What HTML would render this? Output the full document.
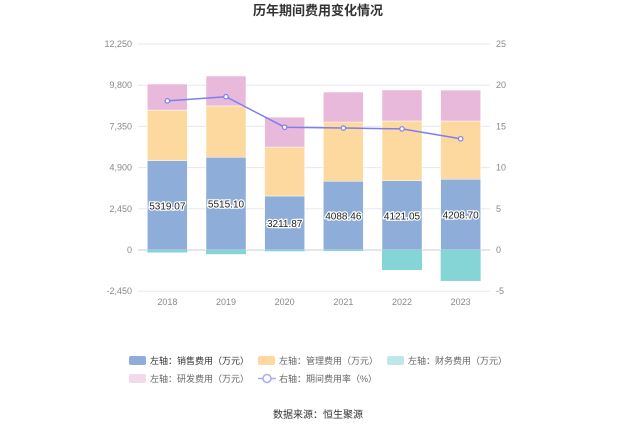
<!DOCTYPE html>
<html><head><meta charset="utf-8"><style>
body{margin:0;background:#fff;font-family:"Liberation Sans","Noto Sans CJK SC",sans-serif;}
svg text{font-family:"Liberation Sans","Noto Sans CJK SC",sans-serif;}
</style></head><body>
<svg id="c" width="637" height="431">
<text x="318" y="15" text-anchor="middle" font-size="13" font-weight="bold" fill="#333">历年期间费用变化情况</text>
<g id="grid"></g><g id="bars"></g><g id="line"></g>
<g id="legend" font-size="9" fill="#666">
<rect x="129" y="356" width="17" height="9" rx="2" fill="#8eadd9"/><text x="150" y="364" fill="#333">左轴：销售费用（万元）</text>
<rect x="258" y="356" width="17" height="9" rx="2" fill="#fdd9a0"/><text x="279" y="364">左轴：管理费用（万元）</text>
<rect x="387" y="356" width="17" height="9" rx="2" fill="#bfe7e8"/><text x="408" y="364">左轴：财务费用（万元）</text>
<rect x="129" y="374" width="17" height="9" rx="2" fill="#f2d9ec"/><text x="150" y="382">左轴：研发费用（万元）</text>
<line x1="258" y1="378.5" x2="276" y2="378.5" stroke="#a9a9f5" stroke-width="1.5"/><circle cx="267" cy="378.5" r="4" fill="#fff" stroke="#a9a9f5" stroke-width="1.5"/><text x="279" y="382">右轴：期间费用率（%）</text>
</g>
<text x="318" y="418" text-anchor="middle" font-size="10" fill="#333">数据来源：恒生聚源</text>
</svg>
<script>
const years=["2018","2019","2020","2021","2022","2023"];
const sales=[5319.07,5515.10,3211.87,4088.46,4121.05,4208.70];
const mgmt=[3000,3050,2910,3520,3550,3460];
const finance=[-150,-250,-80,-60,-1190,-1840];
const rd=[1550,1780,1780,1785,1845,1840];
const rate=[18.1,18.6,14.9,14.8,14.7,13.5];
const leftTicks=[-2450,0,2450,4900,7350,9800,12250];
const rightTicks=[-5,0,5,10,15,20,25];
const NS="http://www.w3.org/2000/svg";
const X0=138,X1=490,Y0=250,PX=206/12250;
const yL=v=>Y0-v*PX, yR=v=>Y0-v*206/25;
const cw=(X1-X0)/years.length, xc=i=>X0+cw*(i+0.5);
function mk(tag,attrs,parent){const e=document.createElementNS(NS,tag);for(const k in attrs)e.setAttribute(k,attrs[k]);document.getElementById(parent).appendChild(e);return e;}
leftTicks.forEach((t,i)=>{
 const l=mk('line',{x1:X0,x2:X1,y1:yL(t),y2:yL(t),stroke:t===0?'#ccc':'#e6e8f0'},'grid');
 
 
 const a=mk('text',{x:X0-6,y:yL(t)+3,'text-anchor':'end','font-size':9,fill:'#888'},'grid');a.textContent=t.toLocaleString('en-US');
 
 
});
rightTicks.forEach(t=>{
 const a=mk('text',{x:X1+6,y:yR(t)+3,'font-size':9,fill:'#888'},'grid');a.textContent=t;
 
 
});
years.forEach((y,i)=>{
 const a=mk('text',{x:xc(i),y:Y0+55,'text-anchor':'middle','font-size':9,fill:'#888'},'grid');a.textContent=y;
 
 
 const bw=40,x=xc(i)-bw/2;
 let base=0;
 [[sales,'#8eadd9','bar-sales'],[mgmt,'#fdd9a0','bar-mgmt'],[rd,'#e8b9da','bar-rd']].forEach(([arr,col,nm])=>{
  const v=arr[i];
  const r=mk('rect',{x:x,y:yL(base+v),width:bw,height:v*PX,fill:col,stroke:'#fff','stroke-width':0.5},'bars');
  
  
  base+=v;
 });
 const f=finance[i];
 const fr=mk('rect',{x:x,y:Y0,width:bw,height:-f*PX,fill:'#85d4d6'},'bars');
 
 
 const lb=mk('text',{x:xc(i),y:yL(sales[i]/2)+4,'text-anchor':'middle','font-size':10,fill:'#222',stroke:'#fff','stroke-width':2.5,'paint-order':'stroke'},'bars');
 lb.textContent=sales[i].toFixed(2);
 
 
});
const pl=mk('polyline',{points:rate.map((v,i)=>xc(i)+','+yR(v)).join(' '),fill:'none',stroke:'#7b7ff0','stroke-width':1.5},'line');


rate.forEach((v,i)=>{
 const c=mk('circle',{cx:xc(i),cy:yR(v),r:2.2,fill:'#fff',stroke:'#7b7ff0','stroke-width':1.2},'line');
 
 
});
</script>
</body></html>
